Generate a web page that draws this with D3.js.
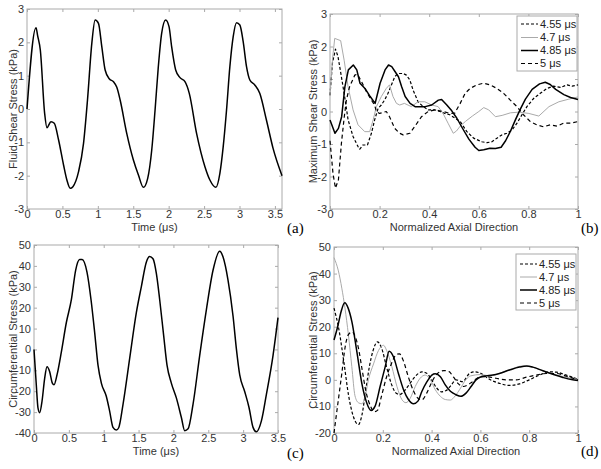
<!DOCTYPE html>
<html>
<head>
<meta charset="utf-8">
<script src="https://cdn.jsdelivr.net/npm/d3@7"></script>
<style>
body { margin: 0; background: #fff; }
text { font-family: "Liberation Sans", Arial, sans-serif; }
</style>
</head>
<body>
<svg width="601" height="469"></svg>
<script>
// (a) fluid shear stress vs time
const aTime = [0,0.127,0.15,0.188,0.249,0.282,0.338,0.385,0.446,0.516,0.563,0.61,0.648,0.728,0.798,0.854,0.915,0.962,1.009,1.056,1.103,1.164,1.221,1.268,1.315,1.408,1.502,1.573,1.643,1.704,1.761,1.808,1.854,1.901,1.958,2.005,2.042,2.099,2.16,2.23,2.291,2.394,2.512,2.582,2.667,2.723,2.77,2.817,2.864,2.911,2.958,3.005,3.052,3.099,3.146,3.216,3.286,3.38,3.474,3.6]
const aShear = [0,2.44,2.2,1.77,-0.13,-0.56,-0.38,-0.43,-0.93,-1.68,-2.13,-2.38,-2.33,-1.88,-1.03,0.27,1.97,2.67,2.57,1.87,1.17,0.9,0.82,0.65,0.27,-0.73,-1.53,-1.98,-2.35,-2.08,-1.23,-0.03,1.27,2.27,2.67,2.47,1.87,1.17,0.94,0.82,0.47,-0.73,-1.73,-2.13,-2.35,-1.93,-1.13,-0.03,1.27,2.17,2.59,2.52,2.02,1.27,0.87,0.72,0.47,-0.33,-1.18,-2.0]

// (c) circumferential stress vs time
const cTime = [0,0.033,0.057,0.081,0.115,0.153,0.187,0.225,0.263,0.287,0.33,0.392,0.464,0.536,0.598,0.655,0.69,0.76,0.818,0.87,0.918,0.966,1.037,1.085,1.133,1.181,1.215,1.277,1.372,1.468,1.54,1.612,1.659,1.707,1.755,1.803,1.86,1.908,1.97,2.042,2.114,2.162,2.21,2.281,2.377,2.473,2.568,2.664,2.712,2.783,2.855,2.903,2.951,3.022,3.085,3.142,3.19,3.262,3.333,3.429,3.5]
const cStress = [0,-17,-28,-30.3,-24.8,-13.8,-8.3,-10.7,-16.1,-16.9,-12.2,-1.3,12.9,23.8,38,43,43,37,23.8,8.2,-7.5,-16.1,-22.4,-29.5,-37.3,-38.6,-37.5,-26.3,-4.4,17.6,30.1,41.9,44.5,43.4,36.4,23.8,6.6,-7.5,-16.1,-23.2,-32.6,-38.9,-38,-26.3,-2.8,19.1,37.9,47,44.2,33.2,16,0.3,-12.2,-20.1,-27.9,-37.3,-39.4,-34.2,-21.6,-2.8,15.2]

// legend names
const seriesNames = ["4.55 \u03bcs", "4.7 \u03bcs", "4.85 \u03bcs", "5 \u03bcs"]

// (b) maximum shear stress along normalized axial direction
const b455 = [[0,0.5],[0.01,1.5],[0.022,1.92],[0.032,1.7],[0.046,1.07],[0.059,0.46],[0.073,-0.26],[0.093,-0.77],[0.113,-1.08],[0.12,-1.16],[0.133,-1.03],[0.151,-1.03],[0.167,-0.67],[0.18,-0.26],[0.194,0.1],[0.207,0.2],[0.22,0.35],[0.234,0.56],[0.248,0.82],[0.261,1.07],[0.274,1.17],[0.295,1.17],[0.308,1.12],[0.322,0.97],[0.335,0.66],[0.355,0.3],[0.376,0.15],[0.396,0.05],[0.423,0.05],[0.443,0],[0.463,-0.06],[0.483,-0.1],[0.503,-0.2],[0.525,-0.31],[0.552,-0.62],[0.579,-0.82],[0.612,-0.93],[0.633,-0.96],[0.653,-0.93],[0.673,-0.82],[0.693,-0.72],[0.713,-0.67],[0.734,-0.57],[0.754,-0.36],[0.774,-0.1],[0.794,0.15],[0.821,0.4],[0.848,0.56],[0.875,0.71],[0.902,0.78],[0.929,0.74],[0.956,0.82],[0.976,0.78],[1,0.82]]
const b47 = [[0,0.5],[0.01,1.6],[0.019,2.25],[0.043,2.18],[0.057,1.58],[0.073,0.76],[0.093,0.05],[0.113,-0.41],[0.14,-0.62],[0.16,-0.62],[0.174,-0.26],[0.187,0.15],[0.207,0.46],[0.227,0.71],[0.24,0.82],[0.254,0.46],[0.268,0.25],[0.281,0.2],[0.3,0.25],[0.328,0.15],[0.355,0.3],[0.382,0.3],[0.41,0.2],[0.436,0.15],[0.456,-0.06],[0.476,-0.36],[0.497,-0.67],[0.51,-0.6],[0.525,-0.45],[0.547,-0.3],[0.574,-0.14],[0.6,0],[0.62,0.12],[0.64,0.05],[0.667,-0.16],[0.694,-0.12],[0.728,-0.04],[0.762,-0.02],[0.802,-0.06],[0.842,-0.14],[0.883,0.15],[0.923,0.3],[0.963,0.38],[1,0.45]]
const b485 = [[0,-0.26],[0.02,-0.67],[0.034,-0.52],[0.047,-0.16],[0.06,0.76],[0.074,1.28],[0.094,1.43],[0.108,1.28],[0.121,0.87],[0.141,0.71],[0.162,0.46],[0.182,0.25],[0.202,0.87],[0.222,1.28],[0.236,1.43],[0.249,1.38],[0.262,1.23],[0.276,1.07],[0.289,0.76],[0.303,0.46],[0.323,0.25],[0.343,0.15],[0.363,0.15],[0.384,0.15],[0.41,0.2],[0.437,0.35],[0.45,0.37],[0.471,0.2],[0.491,0.02],[0.511,-0.2],[0.533,-0.5],[0.56,-0.85],[0.585,-1.1],[0.6,-1.2],[0.62,-1.18],[0.645,-1.13],[0.667,-1.14],[0.69,-1.1],[0.708,-0.9],[0.728,-0.6],[0.748,-0.25],[0.768,0.08],[0.788,0.38],[0.815,0.68],[0.845,0.85],[0.868,0.9],[0.888,0.83],[0.91,0.68],[0.943,0.52],[0.97,0.43],[1,0.37]]
const b5 = [[0,-0.9],[0.012,-1.9],[0.022,-2.36],[0.034,-2.1],[0.046,-0.98],[0.057,-0.2],[0.066,0.35],[0.079,0.76],[0.1,1.12],[0.11,1.15],[0.127,0.92],[0.147,0.61],[0.167,0.35],[0.18,0.2],[0.187,0],[0.2,-0.06],[0.227,0],[0.24,-0.16],[0.261,-0.52],[0.281,-0.67],[0.295,-0.72],[0.322,-0.67],[0.342,-0.46],[0.369,-0.16],[0.396,0],[0.423,0.05],[0.456,0],[0.483,-0.06],[0.503,-0.05],[0.525,0.25],[0.545,0.56],[0.565,0.71],[0.592,0.82],[0.619,0.87],[0.646,0.82],[0.673,0.71],[0.7,0.56],[0.727,0.35],[0.754,0.15],[0.78,-0.1],[0.808,-0.31],[0.834,-0.41],[0.861,-0.47],[0.888,-0.41],[0.915,-0.45],[0.942,-0.36],[0.969,-0.36],[1,-0.31]]

// (d) circumferential stress along normalized axial direction
const d455 = [[0,27],[0.02,19],[0.04,7],[0.06,-6],[0.08,-14],[0.1,-16.8],[0.115,-13],[0.13,-4],[0.145,5],[0.16,11],[0.178,14.3],[0.195,12],[0.215,5],[0.235,-1.5],[0.255,-5],[0.27,-5.5],[0.29,-4],[0.31,-1.5],[0.335,1.5],[0.36,3],[0.38,2.5],[0.4,0],[0.42,-3],[0.44,-4.5],[0.46,-4],[0.48,-2],[0.5,0],[0.527,-0.7],[0.555,2.4],[0.575,3],[0.603,2.4],[0.637,0.2],[0.678,-1.3],[0.719,-2.1],[0.76,-1.5],[0.8,0],[0.842,1.8],[0.884,3],[0.911,2.9],[0.952,1.8],[1,0.2]]
const d47 = [[0,46],[0.018,41],[0.032,34.5],[0.045,27],[0.059,17],[0.073,5],[0.086,-6],[0.1,-8.6],[0.114,-9],[0.127,-6.5],[0.141,0],[0.162,6],[0.182,11],[0.203,13],[0.216,11],[0.237,5],[0.258,-2.5],[0.278,-7.4],[0.295,-8.6],[0.312,-7],[0.333,-2.5],[0.353,0.6],[0.374,1.8],[0.395,0],[0.415,-3.7],[0.436,-6.2],[0.456,-7.4],[0.477,-7.6],[0.497,-6],[0.516,-3.5],[0.54,0],[0.56,1.5],[0.6,2],[0.64,1.5],[0.68,2.5],[0.72,3.8],[0.77,5.2],[0.8,5],[0.83,4.3],[0.88,2.6],[0.94,1.2],[1,0.2]]
const d485 = [[0,15],[0.015,20],[0.03,26],[0.044,29],[0.058,27],[0.073,22],[0.093,11],[0.114,-1.3],[0.134,-8.6],[0.152,-11.5],[0.168,-10],[0.189,-2.5],[0.21,5],[0.226,10.8],[0.244,8.6],[0.264,2.4],[0.285,-3.7],[0.305,-7.4],[0.326,-9],[0.344,-8],[0.36,-4.4],[0.381,-0.7],[0.401,1.8],[0.415,2.3],[0.436,1.2],[0.456,-1.9],[0.477,-4.3],[0.5,-5.6],[0.52,-6.2],[0.541,-5],[0.562,-2.5],[0.582,0],[0.603,1.2],[0.623,1.5],[0.651,1.8],[0.678,2.4],[0.719,3.7],[0.76,4.8],[0.79,5.2],[0.815,4.8],[0.856,3.4],[0.897,2.1],[0.938,0.9],[0.973,0.1],[1,-0.2]]
const d5 = [[0,-20],[0.018,-7.4],[0.032,2.4],[0.045,12],[0.059,17],[0.075,18],[0.09,15.5],[0.1,12],[0.115,4],[0.13,-4],[0.15,-10],[0.165,-12],[0.178,-11.5],[0.195,-6],[0.215,1],[0.235,6],[0.255,9.5],[0.268,9.8],[0.285,7],[0.305,1],[0.325,-4],[0.345,-7],[0.36,-7.5],[0.38,-5],[0.4,-1],[0.42,2],[0.45,3.5],[0.47,3.2],[0.49,1],[0.51,-1.5],[0.53,-2.5],[0.56,-1.2],[0.596,1],[0.623,1.2],[0.664,0.6],[0.705,0],[0.747,0],[0.788,1],[0.829,1.8],[0.87,2.4],[0.911,2.4],[0.952,1.4],[1,0]]

// ticks
const timeTicksA = [0,0.5,1,1.5,2,2.5,3,3.5]
const timeTicksC = [0,0.5,1,1.5,2,2.5,3,3.5]
const axialTicks = [0,0.2,0.4,0.6,0.8,1]
const shearTicks = [-3,-2,-1,0,1,2,3]
const circTicksC = [-40,-30,-20,-10,0,10,20,30,40,50]
const circTicksD = [-20,-10,0,10,20,30,40,50]

const svg = d3.select("svg")
svg.append("rect").attr("width", 601).attr("height", 469).attr("fill", "#fff")

const styles = [
    {stroke: "#000", width: 1.2, dash: "3,2"},
    {stroke: "#aaa", width: 1, dash: null},
    {stroke: "#000", width: 1.5, dash: null},
    {stroke: "#000", width: 1.2, dash: "4,3"}
]
const fmt = d => String(+d.toFixed(2))

function panel(o) {
    const g = svg.append("g")
    const x = d3.scaleLinear().domain(o.xDom).range([o.left, o.right])
    const y = d3.scaleLinear().domain(o.yDom).range([o.bottom, o.top])

    g.append("rect")
        .attr("x", o.left).attr("y", o.top)
        .attr("width", o.right - o.left).attr("height", o.bottom - o.top)
        .attr("fill", "none").attr("stroke", "#aaa")

    const axes = [
        [d3.axisBottom(x).tickValues(o.xTicks).tickSize(-3).tickPadding(1).tickFormat(fmt), 0, o.bottom],
        [d3.axisLeft(y).tickValues(o.yTicks).tickSize(-3).tickPadding(3).tickFormat(fmt), o.left, 0],
        [d3.axisBottom(x).tickValues(o.xTicks).tickSize(3).tickFormat(""), 0, o.top],
        [d3.axisLeft(y).tickValues(o.yTicks).tickSize(3).tickFormat(""), o.right, 0]
    ]
    axes.forEach(([ax, tx, ty]) => {
        const a = g.append("g").attr("transform", `translate(${tx},${ty})`).call(ax)
        a.select(".domain").remove()
        a.selectAll("line").attr("stroke", "#aaa")
        a.selectAll("text").attr("fill", "#333").style("font-size", "11px")
            .style("font-family", "'Liberation Sans', Arial, sans-serif")
    })

    const line = d3.line().x(d => x(d[0])).y(d => y(d[1])).curve(o.curve || d3.curveLinear)
    o.series.forEach((s, i) => {
        const st = o.styles[i]
        g.append("path")
            .datum(s)
            .attr("d", line)
            .attr("fill", "none")
            .attr("stroke", st.stroke)
            .attr("stroke-width", st.width)
            .attr("stroke-dasharray", st.dash)
            .attr("stroke-linejoin", "round")
    })

    g.append("text")
        .attr("x", (o.left + o.right) / 2).attr("y", o.xTitleY)
        .attr("text-anchor", "middle").attr("fill", "#333")
        .style("font-size", "11px").text(o.xTitle)
    g.append("text")
        .attr("transform", `translate(${o.yTitleX},${(o.top + o.bottom) / 2}) rotate(-90)`)
        .attr("text-anchor", "middle").attr("dy", "0.35em").attr("fill", "#333")
        .style("font-size", "11px").text(o.yTitle)
    g.append("text")
        .attr("x", o.tag[0]).attr("y", o.tag[1])
        .style("font-family", "'Liberation Serif', 'Times New Roman', serif")
        .style("font-size", "15px").attr("fill", "#000").text(o.tag[2])

    if (o.legend) {
        const L = o.legend
        g.append("rect").attr("x", L.x).attr("y", L.y).attr("width", L.w).attr("height", L.h)
            .attr("fill", "#fff").attr("stroke", "#aaa")
        seriesNames.forEach((n, i) => {
            const yy = L.rows[i]
            const st = o.styles[i]
            g.append("line").attr("x1", L.x + 4).attr("x2", L.x + 21).attr("y1", yy).attr("y2", yy)
                .attr("stroke", st.stroke).attr("stroke-width", st.width).attr("stroke-dasharray", st.dash)
            g.append("text").attr("x", L.x + 23).attr("y", yy).attr("dy", "0.35em")
                .attr("fill", "#222").style("font-size", "11px").text(n)
        })
    }
}

panel({
    left: 27, right: 282, top: 9, bottom: 209,
    xDom: [0, 3.6], yDom: [-3, 3], xTicks: timeTicksA, yTicks: shearTicks,
    series: [d3.zip(aTime, aShear)], styles: [styles[2]], curve: d3.curveMonotoneX,
    xTitle: "Time (\u03bcs)", xTitleY: 231, yTitle: "Fluid Shear Stress (kPa)", yTitleX: 13,
    tag: [287, 233, "(a)"]
})
panel({
    left: 330, right: 578, top: 14, bottom: 209,
    xDom: [0, 1], yDom: [-3, 3], xTicks: axialTicks, yTicks: shearTicks,
    series: [b455, b47, b485, b5], styles: styles,
    xTitle: "Normalized Axial Direction", xTitleY: 231, yTitle: "Maximum Shear Stress (kPa)", yTitleX: 313,
    tag: [581, 233, "(b)"],
    legend: {x: 517, y: 16, w: 60, h: 55, rows: [24, 37.5, 50.5, 63.5]}
})
panel({
    left: 34, right: 278, top: 245, bottom: 433,
    xDom: [0, 3.5], yDom: [-40, 50], xTicks: timeTicksC, yTicks: circTicksC,
    series: [d3.zip(cTime, cStress)], styles: [styles[2]], curve: d3.curveMonotoneX,
    xTitle: "Time (\u03bcs)", xTitleY: 455, yTitle: "Circumferential Stress (kPa)", yTitleX: 13,
    tag: [287, 458, "(c)"]
})
panel({
    left: 334, right: 578, top: 247, bottom: 433,
    xDom: [0, 1], yDom: [-20, 50], xTicks: axialTicks, yTicks: circTicksD,
    series: [d455, d47, d485, d5], styles: styles, curve: d3.curveMonotoneX,
    xTitle: "Normalized Axial Direction", xTitleY: 455, yTitle: "Circumferential Stress (kPa)", yTitleX: 313,
    tag: [581, 456, "(d)"],
    legend: {x: 516, y: 254, w: 60, h: 56, rows: [264, 277, 290, 303]}
})
</script>
</body>
</html>
